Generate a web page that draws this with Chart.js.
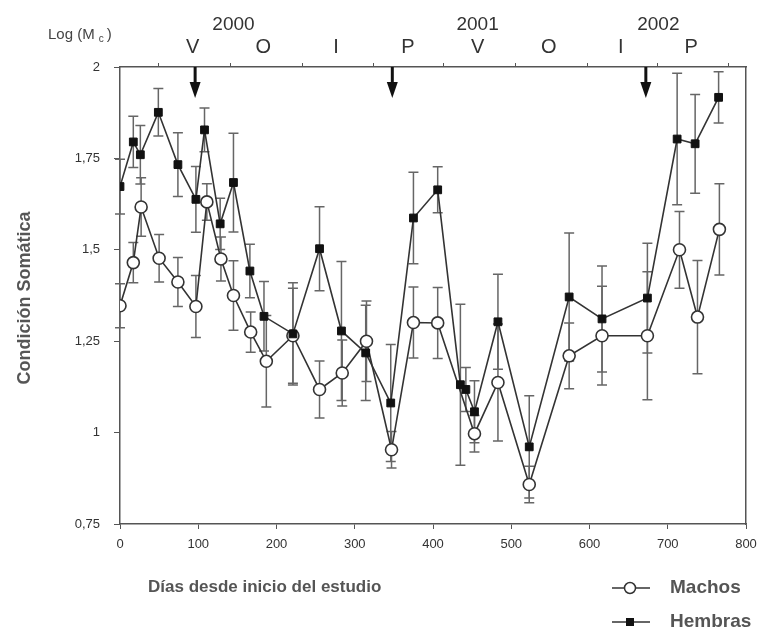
<!DOCTYPE html>
<html>
<head>
<meta charset="utf-8">
<script src="https://cdn.jsdelivr.net/npm/chart.js@4.4.1/dist/chart.umd.min.js"></script>
<style>
  html, body { margin: 0; padding: 0; background: #fff; }
  #wrap { width: 760px; height: 627px; }
</style>
</head>
<body>
<div id="wrap"><canvas id="chart" width="760" height="627"></canvas></div>
<script>
// ejes
const xTickValues = [0, 100, 200, 300, 400, 500, 600, 700, 800];
const yTickValues = [0.75, 1, 1.25, 1.5, 1.75, 2];
const yTickLabels = ["0,75", "1", "1,25", "1,5", "1,75", "2"];

// eje superior: estaciones y años
const seasonTicks = [48.6, 140.8, 233, 323.8, 413.4, 505.6, 597.8, 687.4, 778.2];
const seasonLabels = ["V", "O", "I", "P", "V", "O", "I", "P"];
const seasonLabelDays = [93, 183, 276, 368, 457, 548, 640, 730];
const yearLabels = ["2000", "2001", "2002"];
const yearDays = [145, 457, 688];
const arrowDays = [96, 348, 672];

// Hembras
const hembrasDays = [0, 17, 26, 49, 74, 97, 108, 128, 145, 166, 184, 221, 255, 283, 314, 346, 375, 406, 435, 442, 453, 483, 523, 574, 616, 674, 712, 735, 765];
const hembrasValues = [1.673, 1.795, 1.76, 1.876, 1.733, 1.638, 1.828, 1.571, 1.684, 1.442, 1.318, 1.27, 1.503, 1.278, 1.218, 1.081, 1.587, 1.664, 1.131, 1.118, 1.057, 1.303, 0.961, 1.371, 1.311, 1.368, 1.803, 1.79, 1.917];
const hembrasErr = [0.075, 0.07, 0.08, 0.065, 0.087, 0.09, 0.06, 0.07, 0.135, 0.073, 0.095, 0.14, 0.115, 0.19, 0.13, 0.16, 0.125, 0.063, 0.22, 0.06, 0.085, 0.13, 0.14, 0.175, 0.145, 0.15, 0.18, 0.135, 0.07];

// Machos
const machosDays = [0, 17, 27, 50, 74, 97, 111, 129, 145, 167, 187, 221, 255, 284, 315, 347, 375, 406, 453, 483, 523, 574, 616, 674, 715, 738, 766];
const machosValues = [1.347, 1.465, 1.617, 1.477, 1.412, 1.345, 1.631, 1.475, 1.375, 1.275, 1.195, 1.265, 1.118, 1.163, 1.25, 0.953, 1.301, 1.30, 0.997, 1.137, 0.858, 1.21, 1.265, 1.265, 1.50, 1.316, 1.556];
const machosErr = [0.06, 0.055, 0.08, 0.065, 0.067, 0.085, 0.05, 0.06, 0.095, 0.055, 0.125, 0.13, 0.078, 0.09, 0.11, 0.05, 0.097, 0.097, 0.05, 0.16, 0.05, 0.09, 0.135, 0.175, 0.105, 0.155, 0.125];

const FONT = "'Liberation Sans', Arial, sans-serif";
const AXIS_COLOR = "#555";
const LINE_COLOR = "#333";

function toPoints(days, values) {
  return days.map((d, i) => ({ x: d, y: values[i] }));
}

// barras de error, dibujadas con las escalas del gráfico
const errorBars = {
  id: "errorBars",
  beforeDatasetsDraw(chart) {
    const { ctx, scales } = chart;
    const sx = scales.x, sy = scales.y;
    ctx.save();
    ctx.strokeStyle = "#666";
    ctx.lineWidth = 1.5;
    chart.data.datasets.forEach((ds) => {
      ds.data.forEach((p, i) => {
        const e = ds.errors[i];
        const x = sx.getPixelForValue(p.x);
        const y1 = sy.getPixelForValue(p.y + e);
        const y2 = sy.getPixelForValue(p.y - e);
        ctx.beginPath();
        ctx.moveTo(x, y1); ctx.lineTo(x, y2);
        ctx.moveTo(x - 5, y1); ctx.lineTo(x + 5, y1);
        ctx.moveTo(x - 5, y2); ctx.lineTo(x + 5, y2);
        ctx.stroke();
      });
    });
    ctx.restore();
  },
};

// textos, flechas y leyenda
const decorations = {
  id: "decorations",
  afterDraw(chart) {
    const { ctx, chartArea, scales } = chart;
    const sx = scales.x;
    ctx.save();

    // flechas
    ctx.fillStyle = "#111";
    ctx.strokeStyle = "#111";
    arrowDays.forEach((d) => {
      const x = sx.getPixelForValue(d);
      const top = chartArea.top;
      ctx.lineWidth = 3;
      ctx.beginPath();
      ctx.moveTo(x, top);
      ctx.lineTo(x, top + 18);
      ctx.stroke();
      ctx.beginPath();
      ctx.moveTo(x - 5.5, top + 15);
      ctx.lineTo(x + 5.5, top + 15);
      ctx.lineTo(x, top + 31);
      ctx.closePath();
      ctx.fill();
    });

    // estaciones y años
    ctx.fillStyle = "#333";
    ctx.textAlign = "center";
    ctx.textBaseline = "middle";
    ctx.font = "20px " + FONT;
    seasonLabels.forEach((s, i) => {
      ctx.fillText(s, sx.getPixelForValue(seasonLabelDays[i]), 47);
    });
    ctx.font = "19px " + FONT;
    yearLabels.forEach((s, i) => {
      ctx.fillText(s, sx.getPixelForValue(yearDays[i]), 25);
    });

    // Log (Mc)
    ctx.fillStyle = "#444";
    ctx.textAlign = "left";
    ctx.textBaseline = "alphabetic";
    ctx.font = "15px " + FONT;
    ctx.fillText("Log (M", 48, 39);
    let w = ctx.measureText("Log (M").width;
    ctx.font = "10px " + FONT;
    ctx.fillText("c", 48 + w + 4, 42);
    ctx.font = "15px " + FONT;
    ctx.fillText(")", 48 + w + 12, 39);

    // título eje y
    ctx.fillStyle = "#555";
    ctx.font = "bold 18px " + FONT;
    ctx.save();
    ctx.translate(25, 298);
    ctx.rotate(-Math.PI / 2);
    ctx.textAlign = "center";
    ctx.textBaseline = "middle";
    ctx.fillText("Condición Somática", 0, 0);
    ctx.restore();

    // título eje x
    ctx.textAlign = "left";
    ctx.textBaseline = "middle";
    ctx.font = "bold 17px " + FONT;
    ctx.fillText("Días desde inicio del estudio", 148, 587);

    // leyenda
    const lx = 630;
    [588, 622].forEach((ly) => {
      ctx.strokeStyle = LINE_COLOR;
      ctx.lineWidth = 1.5;
      ctx.beginPath();
      ctx.moveTo(lx - 18, ly);
      ctx.lineTo(lx + 20, ly);
      ctx.stroke();
    });
    ctx.beginPath();
    ctx.arc(lx, 588, 5.5, 0, Math.PI * 2);
    ctx.fillStyle = "#fff";
    ctx.fill();
    ctx.stroke();
    ctx.fillStyle = "#111";
    ctx.fillRect(lx - 4, 618, 8, 8);

    ctx.fillStyle = "#555";
    ctx.font = "bold 19px " + FONT;
    ctx.fillText("Machos", 670, 588);
    ctx.fillText("Hembras", 670, 622);

    ctx.restore();
  },
};

const tickFont = { family: FONT, size: 13 };

new Chart(document.getElementById("chart"), {
  type: "line",
  data: {
    datasets: [
      {
        label: "Hembras",
        data: toPoints(hembrasDays, hembrasValues),
        errors: hembrasErr,
        borderColor: LINE_COLOR,
        borderWidth: 1.6,
        pointStyle: "rect",
        pointRadius: 5.5,
        pointBackgroundColor: "#111",
        pointBorderColor: "#111",
        pointBorderWidth: 1,
        tension: 0,
      },
      {
        label: "Machos",
        data: toPoints(machosDays, machosValues),
        errors: machosErr,
        borderColor: LINE_COLOR,
        borderWidth: 1.6,
        pointStyle: "circle",
        pointRadius: 6,
        pointBackgroundColor: "#fff",
        pointBorderColor: "#333",
        pointBorderWidth: 1.6,
        tension: 0,
      },
    ],
  },
  options: {
    responsive: false,
    animation: false,
    layout: { padding: 0 },
    plugins: { legend: { display: false }, tooltip: { enabled: false } },
    scales: {
      x: {
        type: "linear",
        position: "bottom",
        min: 0,
        max: 800,
        afterBuildTicks: (s) => { s.ticks = xTickValues.map((v) => ({ value: v })); },
        afterFit: (s) => { s.height = 103; s.paddingLeft = 4; s.paddingRight = 4; },
        ticks: { font: tickFont, color: "#333", padding: 8, maxRotation: 0 },
        grid: { drawOnChartArea: false, tickLength: 5, color: AXIS_COLOR },
        border: { color: AXIS_COLOR, width: 1.5 },
      },
      xTop: {
        type: "linear",
        position: "top",
        min: 0,
        max: 800,
        afterBuildTicks: (s) => { s.ticks = seasonTicks.map((v) => ({ value: v })); },
        afterFit: (s) => { s.height = 67; s.paddingLeft = 0; s.paddingRight = 0; },
        ticks: { callback: () => "", font: tickFont },
        grid: { drawOnChartArea: false, tickLength: 4, color: AXIS_COLOR },
        border: { color: AXIS_COLOR, width: 1.5 },
      },
      y: {
        type: "linear",
        position: "left",
        min: 0.75,
        max: 2,
        afterBuildTicks: (s) => { s.ticks = yTickValues.map((v) => ({ value: v })); },
        afterFit: (s) => { s.width = 120; },
        ticks: {
          font: tickFont,
          color: "#333",
          padding: 14,
          callback: (v, i) => yTickLabels[i],
        },
        grid: { drawOnChartArea: false, tickLength: 6, color: AXIS_COLOR },
        border: { color: AXIS_COLOR, width: 1.5 },
      },
      yRight: {
        type: "linear",
        position: "right",
        min: 0.75,
        max: 2,
        afterFit: (s) => { s.width = 14; },
        ticks: { display: false },
        grid: { display: false },
        border: { color: AXIS_COLOR, width: 1.5 },
      },
    },
  },
  plugins: [errorBars, decorations],
});
</script>
</body>
</html>
